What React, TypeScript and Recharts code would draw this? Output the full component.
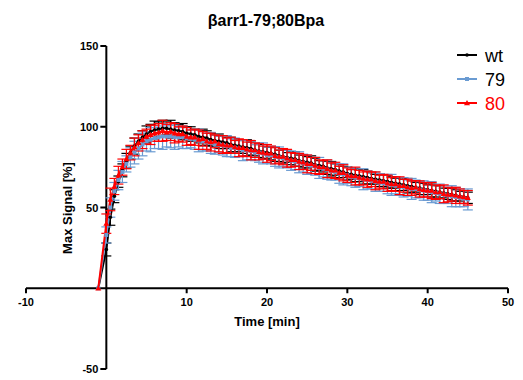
import React from 'react';
import { ComposedChart, Line, XAxis, YAxis, ErrorBar, ReferenceLine, ReferenceDot } from 'recharts';

const W = 515;
const H = 372;
const FONT = '"Liberation Sans", Arial, sans-serif';

const title = 'βarr1-79;80Bpa';
const xTitle = 'Time [min]';
const yTitle = 'Max Signal [%]';
const xTicks = [-10, 10, 20, 30, 40, 50];
const yTicks = [-50, 50, 100, 150];
const seriesNames = ['wt', '79', '80'];

const times = [-1, 0, 0.5, 1, 1.5, 2, 2.5, 3, 3.5, 4, 4.5, 5, 5.5, 6, 6.5, 7, 7.5, 8, 8.5, 9, 9.5, 10, 10.5, 11, 11.5, 12, 12.5, 13, 13.5, 14, 14.5, 15, 15.5, 16, 16.5, 17, 17.5, 18, 18.5, 19, 19.5, 20, 20.5, 21, 21.5, 22, 22.5, 23, 23.5, 24, 24.5, 25, 25.5, 26, 26.5, 27, 27.5, 28, 28.5, 29, 29.5, 30, 30.5, 31, 31.5, 32, 32.5, 33, 33.5, 34, 34.5, 35, 35.5, 36, 36.5, 37, 37.5, 38, 38.5, 39, 39.5, 40, 40.5, 41, 41.5, 42, 42.5, 43, 43.5, 44, 44.5, 45];

const wtValues = [
  0, 24, 44, 57, 66, 73, 79, 84, 88, 91,
  93.5, 95.5, 97, 98, 98.5, 99, 99, 98.5, 98, 97.5,
  97, 96, 95.5, 95, 94, 93.5, 93, 92, 91.5, 91,
  90.5, 90, 89, 88.5, 88, 87.5, 87, 86.5, 85.5, 85,
  84.5, 84, 83.5, 83, 82, 81.5, 81, 80.5, 80, 79,
  78.5, 78, 77.5, 76.5, 76, 75.5, 74.5, 74, 73.5, 72.5,
  72, 71, 70.5, 70, 69.5, 69, 68.5, 68, 67.5, 67,
  66.5, 66, 65.5, 65, 64.5, 64, 63.5, 63, 62.5, 62,
  61.5, 61, 60.5, 60, 59.5, 59, 58.5, 58, 57.5, 57,
  56.5, 56,
];
const wtErr = [
  0, 4, 5, 4, 3.5, 4, 4.5, 4, 5, 4.5,
  4, 5, 4.5, 5.5, 4.5, 5, 4, 5.5, 4.5, 4,
  5, 4, 4.5, 3.5, 4, 5, 4.5, 4, 3.5, 4.5,
  4, 3.5, 4.5, 4, 3.5, 4, 5, 4, 3.5, 4,
  4.5, 3.5, 4, 4.5, 3.5, 4, 3, 4, 4.5, 3.5,
  4, 3.5, 4.5, 4, 3, 3.5, 4, 4.5, 3.5, 4,
  3.5, 4, 3, 4, 3.5, 4.5, 4, 3.5, 3, 4,
  3.5, 4, 3.5, 3, 4, 3.5, 4.5, 3.5, 3, 4,
  3.5, 3, 4, 3.5, 4, 3, 3.5, 4, 3.5, 3,
  4, 3.5,
];

const s79Values = [
  0, 33, 50, 60, 67, 72, 77, 81, 84, 86.5,
  89, 91, 92, 93, 93.5, 94, 94, 94, 93.5, 93.5,
  93.5, 93, 92.5, 92, 91.5, 91, 90.5, 90, 89, 89,
  88.5, 88, 87, 87, 86.5, 85.5, 85.5, 85, 84, 84,
  83.5, 82.5, 82.5, 81.5, 81, 80.5, 80, 79, 78.5, 78,
  77.5, 76.5, 76, 75.5, 74.5, 74, 73.5, 72.5, 72, 71,
  70.5, 70, 69, 68.5, 68, 67.5, 67, 66.5, 66, 65.5,
  65, 64.5, 64, 63.5, 63, 62.5, 62, 61.5, 61.5, 61,
  60.5, 60, 59.5, 59, 58.5, 58, 57.5, 57, 56.5, 56,
  55.5, 55,
];
const s79Err = [
  0, 5, 6, 5.5, 6, 6.5, 5, 6, 7, 6.5,
  7, 6, 7.5, 6.5, 7, 8, 6.5, 7, 7.5, 6,
  7, 6.5, 5.5, 6, 7, 6, 5.5, 6.5, 6, 5,
  6, 6.5, 5.5, 6, 5, 6.5, 6, 5.5, 5, 6,
  6.5, 5, 5.5, 6, 6.5, 5, 5.5, 6, 5, 6.5,
  5.5, 6, 5, 5.5, 6.5, 5, 6, 5.5, 5, 6,
  6.5, 5, 5.5, 6, 5, 6.5, 5.5, 5, 6, 5.5,
  5, 6, 6.5, 5, 5.5, 6, 5, 6.5, 5.5, 5,
  6, 5.5, 6.5, 5, 6, 5.5, 5, 6.5, 6, 5.5,
  5, 6.5,
];

const s80Values = [
  0, 40, 55, 63, 70, 75, 80, 84, 87.5, 90,
  92, 94, 95, 96, 96.5, 97.5, 96.5, 97, 96, 95.5,
  95.5, 94, 93.5, 93.5, 92, 92.5, 91, 90.5, 91, 89.5,
  89, 88.5, 88.5, 87.5, 87, 87, 86, 85.5, 85.5, 84.5,
  84, 83.5, 83.5, 82, 81.5, 81.5, 80.5, 79.5, 79.5, 78.5,
  78, 77, 77, 76, 75, 75, 74, 73, 73, 71.5,
  71.5, 70, 69.5, 69.5, 68.5, 68, 67.5, 67.5, 66.5, 66,
  66, 65, 64.5, 64.5, 63.5, 63.5, 62.5, 62, 62.5, 61.5,
  61, 60.5, 60.5, 59.5, 59.5, 58.5, 58, 58, 57.5, 57,
  56.5, 56,
];
const s80Err = [
  0, 6, 7, 5, 5.5, 5, 6, 4.5, 5.5, 5,
  5.5, 4.5, 6, 5, 5.5, 6.5, 5, 5.5, 6, 4.5,
  5, 5.5, 4.5, 5, 6, 4.5, 5, 5.5, 4, 5,
  5.5, 4.5, 5, 4, 5.5, 5, 4.5, 6, 4.5, 5,
  4, 5.5, 4.5, 5, 4, 5, 5.5, 4.5, 4, 5,
  4.5, 5.5, 4, 5, 4.5, 4, 5.5, 4.5, 5, 4,
  5, 4.5, 4, 5.5, 4.5, 4, 5, 4.5, 5.5, 4,
  4.5, 5, 4, 4.5, 5.5, 4, 5, 4.5, 4, 5,
  4.5, 4, 5, 4.5, 4, 5.5, 4.5, 4, 5, 4.5,
  4, 4.5,
];

const BLACK = '#000000';
const BLUE = '#6a9bd2';
const RED = '#ff0000';

const data = times.map((t, i) => ({
  t,
  wt: wtValues[i],
  s79: s79Values[i],
  s80: s80Values[i],
  eWt: wtErr[i],
  e79: s79Err[i],
  e80: s80Err[i],
}));

const BlackDot = (p: any) => <circle key={`b${p.index}`} cx={p.cx} cy={p.cy} r={1.8} fill={BLACK} />;
const BlueDot = (p: any) => <rect key={`u${p.index}`} x={p.cx - 2} y={p.cy - 2} width={4} height={4} fill={BLUE} />;
const RedDot = (p: any) => (
  <polygon key={`r${p.index}`} points={`${p.cx},${p.cy - 3} ${p.cx - 3},${p.cy + 2.2} ${p.cx + 3},${p.cy + 2.2}`} fill={RED} />
);

const makeXTick = (v: number) => (p: any) => (
  <g>
    <line x1={p.cx} y1={p.cy} x2={p.cx} y2={p.cy + 5} stroke={BLACK} strokeWidth={2} />
    <text x={p.cx} y={p.cy + 18} textAnchor="middle" fontFamily={FONT} fontWeight="bold" fontSize={11} fill={BLACK}>
      {v}
    </text>
  </g>
);

const makeYTick = (v: number) => (p: any) => (
  <g>
    <line x1={p.cx - 6} y1={p.cy} x2={p.cx} y2={p.cy} stroke={BLACK} strokeWidth={2} />
    <text x={p.cx - 8} y={p.cy + 4} textAnchor="end" fontFamily={FONT} fontWeight="bold" fontSize={11} fill={BLACK}>
      {v}
    </text>
  </g>
);

export default function App() {
  return (
    <div style={{ position: 'relative', width: W, height: H }}>
      <ComposedChart width={W} height={H} data={data} margin={{ top: 38, right: 15, bottom: 11, left: 18 }}>
        <XAxis type="number" dataKey="t" domain={[-10, 50]} hide allowDataOverflow />
        <YAxis type="number" domain={[-50, 150]} hide allowDataOverflow />
        <ReferenceLine y={0} stroke={BLACK} strokeWidth={2} ifOverflow="visible" />
        <ReferenceLine x={0} stroke={BLACK} strokeWidth={2} ifOverflow="visible" />
        {xTicks.map((v) => (
          <ReferenceDot key={`xt${v}`} x={v} y={0} r={0} ifOverflow="visible" shape={makeXTick(v)} />
        ))}
        {yTicks.map((v) => (
          <ReferenceDot key={`yt${v}`} x={0} y={v} r={0} ifOverflow="visible" shape={makeYTick(v)} />
        ))}
        <Line type="linear" dataKey="wt" stroke={BLACK} strokeWidth={2} dot={BlackDot} activeDot={false} isAnimationActive={false}>
          <ErrorBar dataKey="eWt" width={5} stroke={BLACK} strokeWidth={1.2} direction="y" isAnimationActive={false} />
        </Line>
        <Line type="linear" dataKey="s79" stroke={BLUE} strokeWidth={2} dot={BlueDot} activeDot={false} isAnimationActive={false}>
          <ErrorBar dataKey="e79" width={5} stroke={BLUE} strokeWidth={1.2} direction="y" isAnimationActive={false} />
        </Line>
        <Line type="linear" dataKey="s80" stroke={RED} strokeWidth={2} dot={RedDot} activeDot={false} isAnimationActive={false}>
          <ErrorBar dataKey="e80" width={5} stroke={RED} strokeWidth={1.2} direction="y" isAnimationActive={false} />
        </Line>
      </ComposedChart>
      <svg width={W} height={H} style={{ position: 'absolute', left: 0, top: 0, pointerEvents: 'none' }}>
        <text x={258} y={18} textAnchor="middle" fontFamily={FONT} fontWeight="bold" fontSize={16} fill={BLACK}>
          {title}
        </text>
        <text x={259} y={318} textAnchor="middle" fontFamily={FONT} fontWeight="bold" fontSize={13} fill={BLACK}>
          {xTitle}
        </text>
        <text
          transform="translate(59,200) rotate(-90)"
          textAnchor="middle"
          dominantBaseline="central"
          fontFamily={FONT}
          fontWeight="bold"
          fontSize={13}
          fill={BLACK}
        >
          {yTitle}
        </text>
        <g>
          <line x1={449} y1={47} x2={469} y2={47} stroke={BLACK} strokeWidth={2} />
          <circle cx={459} cy={47} r={1.8} fill={BLACK} />
          <text x={477} y={54} fontFamily={FONT} fontSize={18} fill={BLACK}>{seriesNames[0]}</text>
          <line x1={449} y1={71} x2={469} y2={71} stroke={BLUE} strokeWidth={2} />
          <rect x={457} y={69} width={4} height={4} fill={BLUE} />
          <text x={477} y={78} fontFamily={FONT} fontSize={18} fill={BLACK}>{seriesNames[1]}</text>
          <line x1={449} y1={95} x2={469} y2={95} stroke={RED} strokeWidth={2} />
          <polygon points="459,92 456,97.2 462,97.2" fill={RED} />
          <text x={477} y={102} fontFamily={FONT} fontSize={18} fill={RED}>{seriesNames[2]}</text>
        </g>
      </svg>
    </div>
  );
}
